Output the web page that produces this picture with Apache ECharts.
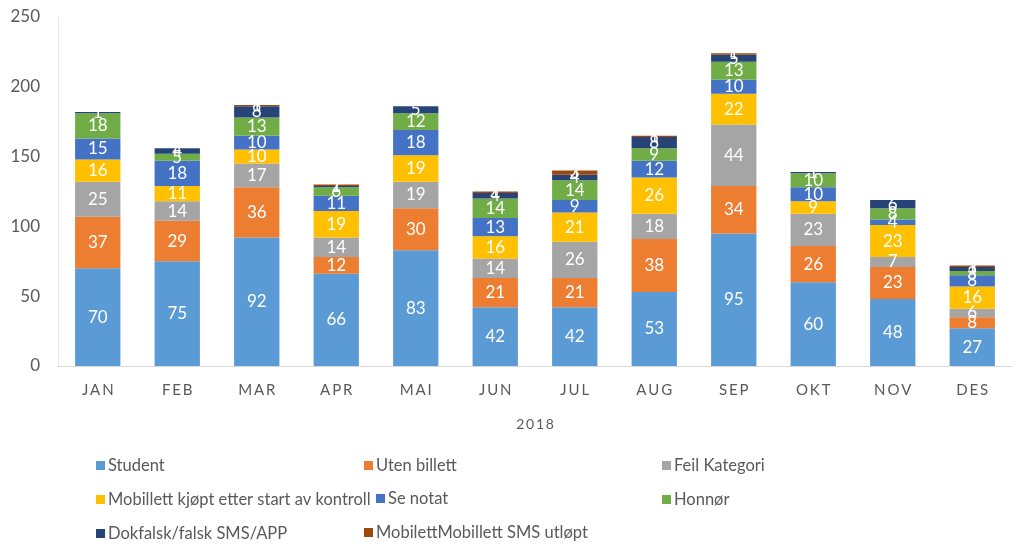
<!DOCTYPE html>
<html><head><meta charset="utf-8">
<script src="https://cdn.jsdelivr.net/npm/echarts@6/dist/echarts.min.js"></script>
<style>html,body{margin:0;padding:0;background:#fff}#c{width:1024px;height:557px}</style>
</head><body><div id="c"></div>
<script>
const months = ['JAN','FEB','MAR','APR','MAI','JUN','JUL','AUG','SEP','OKT','NOV','DES'];
const student     = [70,75,92,66,83,42,42,53,95,60,48,27];
const utenBillett = [37,29,36,12,30,21,21,38,34,26,23,8];
const feilKat     = [25,14,17,14,19,14,26,18,44,23,7,6];
const mobillett   = [16,11,10,19,19,16,21,26,22,9,23,16];
const seNotat     = [15,18,10,11,18,13,9,12,10,10,4,8];
const honnor      = [18,5,13,6,12,14,14,9,13,10,8,3];
const dokfalsk    = [1,4,8,1,5,4,4,8,5,1,6,3];
const smsUtlopt   = [0,0,1,1,0,1,3,1,1,0,0,1];
const yTicks = [0,50,100,150,200,250];

const names = ['Student','Uten billett','Feil Kategori','Mobillett kjøpt etter start av kontroll','Se notat','Honnør','Dokfalsk/falsk SMS/APP','MobilettMobillett SMS utløpt'];
const colors = ['#5B9BD5','#ED7D31','#A5A5A5','#FFC000','#4472C4','#70AD47','#264478','#9E480E'];
const data = [student,utenBillett,feilKat,mobillett,seNotat,honnor,dokfalsk,smsUtlopt];
const font = 'Lato';

const series = names.map((n,i)=>({
  name:n, type:'bar', stack:'a', barWidth:'57%',
  itemStyle:{color:colors[i]},
  label:{show:true, position:'inside', color:'#fff', fontSize:17, fontFamily:font,
    formatter:p=>p.value>0?p.value:''},
  data:data[i]
}));

const legendBase = {orient:'vertical', itemWidth:9, itemHeight:9, itemGap:17, icon:'rect',
  textStyle:{color:'#595959', fontSize:16.5, fontFamily:font, padding:[0,0,0,-2]}};

const chart = echarts.init(document.getElementById('c'));
chart.setOption({
  animation:false,
  color:colors,
  grid:{left:58, right:12, top:17, bottom:191, containLabel:false},
  legend:[
    Object.assign({left:91, top:452, data:[names[0],names[3],names[6]]}, legendBase),
    Object.assign({left:359, top:452, data:[names[1]]}, legendBase),
    Object.assign({left:371, top:485, data:[names[4]]}, legendBase),
    Object.assign({left:359, top:519, data:[names[7]]}, legendBase),
    Object.assign({left:657, top:452, data:[names[2],names[5]]}, legendBase)
  ],
  xAxis:{type:'category', data:months, name:'2\u20090\u20091\u20098', nameLocation:'middle', nameGap:51,
    nameTextStyle:{color:'#595959', fontSize:14, fontFamily:font},
    axisLine:{lineStyle:{color:'#d9d9d9'}}, axisTick:{show:false},
    axisLabel:{color:'#595959', fontSize:15, fontFamily:font, margin:17,
      formatter:v=>v.split('').join('\u2009')}},
  yAxis:{type:'value', min:0, max:250, interval:50,
    axisLine:{show:true, lineStyle:{color:'#e6e6e6'}}, splitLine:{show:false},
    axisLabel:{color:'#595959', fontSize:17, fontFamily:font, margin:18,
      formatter:v=>yTicks.includes(v)?String(v):''}},
  series:series
});
</script></body></html>
